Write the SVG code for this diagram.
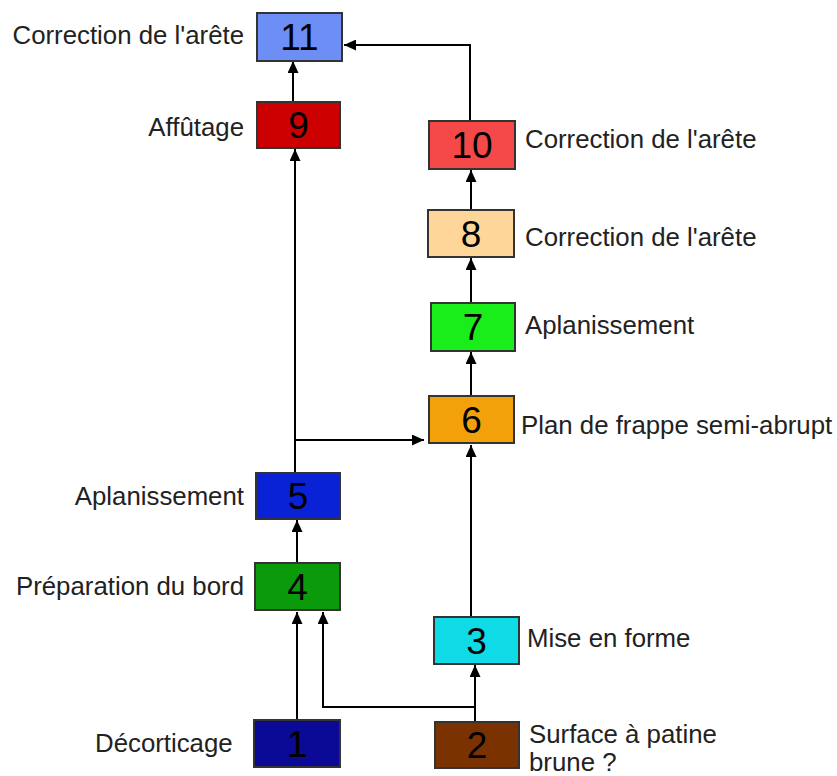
<svg xmlns="http://www.w3.org/2000/svg" width="837" height="776" viewBox="0 0 837 776">
<defs>
<marker id="ah" markerUnits="userSpaceOnUse" markerWidth="12" markerHeight="11" refX="12" refY="5.5" orient="auto">
<path d="M0,0 L12,5.5 L0,11 z" fill="#000"/>
</marker>
<style>
.box{stroke:#333;stroke-width:2}
.num{font-family:"Liberation Sans",Arial,sans-serif;font-size:37px;fill:#000;text-anchor:middle}
.lbl{font-family:"Liberation Sans",Arial,sans-serif;font-size:25.8px;fill:#222}
.end{text-anchor:end}
.con{fill:none;stroke:#000;stroke-width:2;marker-end:url(#ah)}
</style>
</defs>
<rect width="837" height="776" fill="#fff"/>
<g id="connectors">
<path class="con" d="M293 102 V61"/>
<path class="con" d="M470 121 V45 H344"/>
<path class="con" d="M471 210 V170"/>
<path class="con" d="M471 303 V258"/>
<path class="con" d="M471 396 V352"/>
<path class="con" d="M471 617 V445"/>
<path class="con" d="M295 473 V149"/>
<path class="con" d="M295 440 H424"/>
<path class="con" d="M297 563 V520"/>
<path class="con" d="M297 720 V612"/>
<path class="con" d="M475 722 V707 H323 V612"/>
<path class="con" d="M475 707 V665"/>
</g>
<g id="n11"><rect class="box" x="257" y="13" width="85" height="48" fill="#6d8ff5"/><text class="num" x="299.5" y="50">11</text><text class="lbl end" x="244" y="44">Correction de l'arête</text></g>
<g id="n9"><rect class="box" x="257" y="102" width="83" height="46" fill="#cc0000"/><text class="num" x="298.5" y="138">9</text><text class="lbl end" x="244" y="136">Affûtage</text></g>
<g id="n10"><rect class="box" x="429" y="121" width="86" height="48" fill="#f54848"/><text class="num" x="472" y="158">10</text><text class="lbl" x="525" y="148">Correction de l'arête</text></g>
<g id="n8"><rect class="box" x="428" y="210" width="86" height="47" fill="#ffd699"/><text class="num" x="471" y="247">8</text><text class="lbl" x="525" y="246">Correction de l'arête</text></g>
<g id="n7"><rect class="box" x="431" y="303" width="84" height="48" fill="#1aee1a"/><text class="num" x="473" y="340">7</text><text class="lbl" x="525" y="334">Aplanissement</text></g>
<g id="n6"><rect class="box" x="429" y="396" width="85" height="47" fill="#f3a10a"/><text class="num" x="471.5" y="433">6</text><text class="lbl" x="521" y="434">Plan de frappe semi-abrupt</text></g>
<g id="n5"><rect class="box" x="256" y="473" width="84" height="46" fill="#0a22d6"/><text class="num" x="298" y="509">5</text><text class="lbl end" x="244" y="505">Aplanissement</text></g>
<g id="n4"><rect class="box" x="255" y="563" width="85" height="47" fill="#0a9a0a"/><text class="num" x="297.5" y="600">4</text><text class="lbl end" x="244" y="595">Préparation du bord</text></g>
<g id="n3"><rect class="box" x="434" y="617" width="85" height="47" fill="#0fdbe6"/><text class="num" x="476.5" y="654">3</text><text class="lbl" x="527" y="647">Mise en forme</text></g>
<g id="n1"><rect class="box" x="254" y="720" width="86" height="47" fill="#0a0a96"/><text class="num" x="297" y="757">1</text><text class="lbl" x="95" y="752">Décorticage</text></g>
<g id="n2"><rect class="box" x="435" y="722" width="84" height="46" fill="#7a3300"/><text class="num" x="477" y="758">2</text><text class="lbl" x="529" y="743">Surface à patine</text><text class="lbl" x="529" y="771">brune ?</text></g>
</svg>
